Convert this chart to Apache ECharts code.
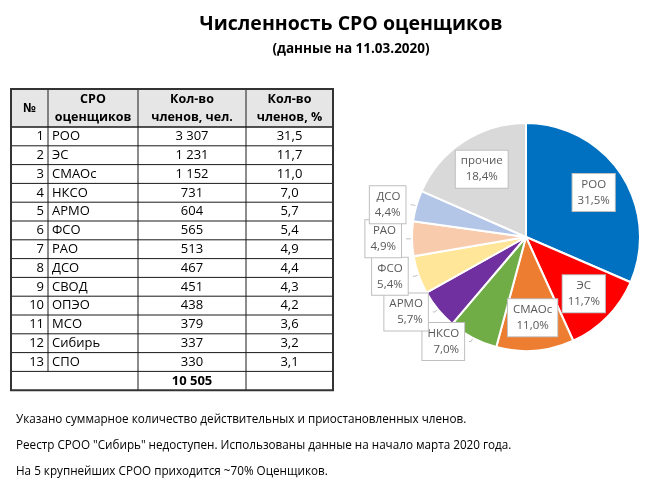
<!DOCTYPE html>
<html>
<head>
<meta charset="utf-8">
<script src="https://cdn.jsdelivr.net/npm/echarts@6/dist/echarts.min.js"></script>
<style>
  html, body { margin: 0; padding: 0; background: #fff; }
  #chart { width: 655px; height: 485px; }
</style>
</head>
<body>
<div id="chart"></div>
<script>
// таблица
const tableHead = ['№', 'СРО\nоценщиков', 'Кол-во\nчленов, чел.', 'Кол-во\nчленов, %'];
const sroNames = ['РОО', 'ЭС', 'СМАОс', 'НКСО', 'АРМО', 'ФСО', 'РАО', 'ДСО', 'СВОД', 'ОПЭО', 'МСО', 'Сибирь', 'СПО'];
const sroCounts = [3307, 1231, 1152, 731, 604, 565, 513, 467, 451, 438, 379, 337, 330];
const sroShares = ['31,5', '11,7', '11,0', '7,0', '5,7', '5,4', '4,9', '4,4', '4,3', '4,2', '3,6', '3,2', '3,1'];
const totalCount = 10505;

// диаграмма
const pieNames = ['РОО', 'ЭС', 'СМАОс', 'НКСО', 'АРМО', 'ФСО', 'РАО', 'ДСО', 'прочие'];
const pieValues = [31.5, 11.7, 11.0, 7.0, 5.7, 5.4, 4.9, 4.4, 18.4];
const pieColors = ['#0070C0', '#FF0000', '#ED7D31', '#70AD47', '#7030A0', '#FFE699', '#F8CBAD', '#B4C6E7', '#D9D9D9'];

const notes = [
  'Указано суммарное количество действительных и приостановленных членов.',
  'Реестр СРОО "Сибирь" недоступен. Использованы данные на начало марта 2020 года.',
  'На 5 крупнейших СРОО приходится ~70% Оценщиков.'
];

const FONT = '"Open Sans", "Noto Sans", sans-serif';

function fmtNum(n) {
  return String(n).replace(/\B(?=(\d{3})+(?!\d))/g, ' ');
}

// геометрия таблицы
const colX = [11, 48, 138, 246, 333];
const tTop = 89;
const headH = 38;
const rowH = 18.8;
const nRows = sroNames.length + 1;
const tBottom = tTop + headH + rowH * nRows;

function txt(x, y, s, opt) {
  return {
    type: 'text', x: x, y: y, z: 10,
    style: Object.assign({
      text: s, fill: '#000', fontSize: 13, fontFamily: FONT,
      align: 'center', verticalAlign: 'middle', lineHeight: 18
    }, opt || {})
  };
}

function line(x1, y1, x2, y2, w) {
  return {
    type: 'line', z: 20,
    shape: { x1: x1, y1: y1, x2: x2, y2: y2 },
    style: { stroke: '#1a1a1a', lineWidth: w || 1 }
  };
}

const graphics = [];
graphics.push({
  type: 'rect', z: 1,
  shape: { x: colX[0], y: tTop, width: colX[4] - colX[0], height: headH },
  style: { fill: '#E7E6E6' }
});

tableHead.forEach(function (h, i) {
  graphics.push(txt((colX[i] + colX[i + 1]) / 2, tTop + headH / 2, h, { fontWeight: 'bold', fontSize: 12.5 }));
});

sroNames.forEach(function (name, i) {
  const cy = tTop + headH + rowH * (i + 0.5);
  graphics.push(txt(colX[1] - 4, cy, String(i + 1), { align: 'right' }));
  graphics.push(txt(colX[1] + 4, cy, name, { align: 'left' }));
  graphics.push(txt((colX[2] + colX[3]) / 2, cy, fmtNum(sroCounts[i])));
  graphics.push(txt((colX[3] + colX[4]) / 2, cy, sroShares[i]));
});
graphics.push(txt((colX[2] + colX[3]) / 2, tTop + headH + rowH * (nRows - 0.5), fmtNum(totalCount), { fontWeight: 'bold' }));

// линии
graphics.push(line(colX[0], tTop + headH, colX[4], tTop + headH, 1.5));
for (let r = 1; r < nRows; r++) {
  const y = tTop + headH + rowH * r;
  graphics.push(line(colX[0], y, colX[4], y, 1));
}
graphics.push(line(colX[1], tTop, colX[1], tBottom - rowH, 1));
graphics.push(line(colX[2], tTop, colX[2], tBottom, 1));
graphics.push(line(colX[3], tTop, colX[3], tBottom, 1));
graphics.push({
  type: 'rect', z: 21,
  shape: { x: colX[0], y: tTop, width: colX[4] - colX[0], height: tBottom - tTop },
  style: { fill: 'none', stroke: '#333', lineWidth: 2 }
});

notes.forEach(function (n, i) {
  graphics.push(txt(16, 420 + i * 26, n, { align: 'left', fontSize: 11.7 }));
});

const pieCenter = [526, 237];
const insideMin = 10;

const pieData = pieNames.map(function (name, i) {
  const inside = pieValues[i] >= insideMin;
  return {
    name: name,
    value: pieValues[i],
    itemStyle: { color: pieColors[i] },
    label: { position: inside ? 'inside' : 'outside' },
    labelLine: { show: !inside }
  };
});

const chart = echarts.init(document.getElementById('chart'), null, { renderer: 'canvas' });

const option = {
  animation: false,
  backgroundColor: '#fff',
  title: {
    text: 'Численность СРО оценщиков',
    subtext: '(данные на 11.03.2020)',
    left: 346,
    top: 9,
    textAlign: 'center',
    itemGap: 8,
    textStyle: { fontFamily: FONT, fontSize: 19.5, fontWeight: 'bold', color: '#000' },
    subtextStyle: { fontFamily: FONT, fontSize: 13.5, fontWeight: 'bold', color: '#000' }
  },
  graphic: graphics,
  series: [{
    type: 'pie',
    center: pieCenter,
    radius: [0, 114],
    startAngle: 90,
    clockwise: true,
    avoidLabelOverlap: false,
    itemStyle: { borderColor: '#fff', borderWidth: 2 },
    label: {
      fontFamily: FONT,
      fontSize: 11.5,
      lineHeight: 16,
      color: '#595959',
      backgroundColor: '#fff',
      borderColor: '#BFBFBF',
      borderWidth: 1,
      padding: [3, 5, 2, 5],
      align: 'center',
      formatter: function (p) {
        return p.name + '\n' + p.value.toFixed(1).replace('.', ',') + '%';
      }
    },
    labelLine: {
      length: 4,
      length2: 2,
      lineStyle: { color: '#BFBFBF', width: 1 }
    },
    labelLayout: function (p) {
      if (pieValues[p.dataIndex] < insideMin) return {};
      const r = p.labelRect;
      const lx = r.x + r.width / 2 - pieCenter[0];
      const ly = r.y + r.height / 2 - pieCenter[1];
      return { dx: lx * 0.35, dy: ly * 0.35 };
    },
    data: pieData
  }]
};

chart.setOption(option);
</script>
</body>
</html>
